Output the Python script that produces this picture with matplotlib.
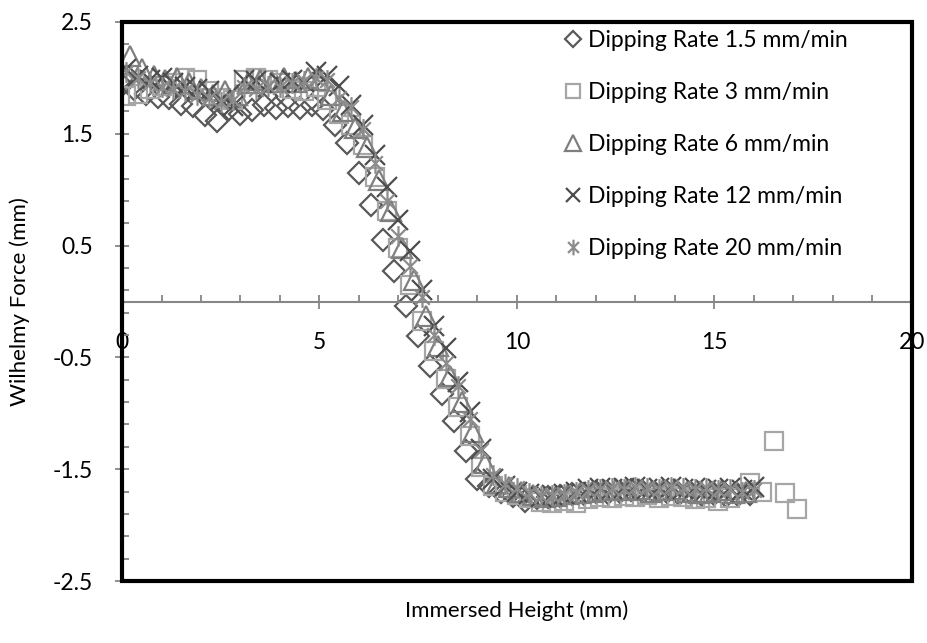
import matplotlib
matplotlib.use('Agg')
import matplotlib.pyplot as plt
from matplotlib.path import Path
from matplotlib.patches import Rectangle
from matplotlib.ticker import FixedLocator
import numpy as np

plt.rcParams['font.family'] = ['Lato', 'DejaVu Sans']

# Dipping Rate 1.5 mm/min (diamonds)
d_x = [0.0, 0.3, 0.6, 0.9, 1.2, 1.5, 1.8, 2.1, 2.4, 2.7, 3.0, 3.3, 3.6, 3.9, 4.2, 4.5, 4.8, 5.1,
       5.4, 5.7, 6.0, 6.3, 6.6, 6.9, 7.2, 7.5, 7.8, 8.1, 8.4, 8.7, 9.0, 9.3, 9.6, 9.9, 10.2, 10.5,
       10.8, 11.1, 11.4, 11.7, 12.0, 12.3, 12.6, 12.9, 13.2, 13.5, 13.8, 14.1, 14.4, 14.7, 15.0,
       15.3, 15.6, 15.9]
d_y = [1.94, 1.90, 1.86, 1.83, 1.82, 1.77, 1.75, 1.67, 1.61, 1.72,
       1.68, 1.71, 1.76, 1.73, 1.75, 1.73, 1.76, 1.72, 1.58, 1.42,
       1.15, 0.86, 0.55, 0.27, -0.04, -0.31, -0.58, -0.83, -1.07, -1.34,
       -1.59, -1.65, -1.70, -1.74, -1.78, -1.76, -1.75, -1.74, -1.72, -1.72,
       -1.70, -1.71, -1.70, -1.69, -1.70, -1.71, -1.70, -1.72, -1.71, -1.73,
       -1.72, -1.74, -1.73, -1.72]

# Dipping Rate 3 mm/min (squares)
s_x = [0.1, 0.4, 0.7, 1.0, 1.3, 1.6, 1.9, 2.2, 2.5, 2.8, 3.1, 3.4, 3.7, 4.0, 4.3, 4.6, 4.9, 5.2,
       5.5, 5.8, 6.1, 6.4, 6.7, 7.0, 7.3, 7.6, 7.9, 8.2, 8.5, 8.8, 9.1, 9.4, 9.7, 10.0, 10.3, 10.6,
       10.9, 11.2, 11.5, 11.8, 12.1, 12.4, 12.7, 13.0, 13.3, 13.6, 13.9, 14.2, 14.5, 14.8, 15.1,
       15.4, 15.9, 16.2, 16.5, 16.8, 17.1]
s_y = [1.84, 1.86, 1.90, 1.93, 1.95, 2.00, 1.98, 1.88, 1.82, 1.80,
       1.98, 2.00, 1.98, 1.95, 1.90, 1.88, 1.92, 1.80, 1.68, 1.58,
       1.40, 1.11, 0.81, 0.48, 0.15, -0.17, -0.44, -0.69, -0.94, -1.20,
       -1.48, -1.65, -1.70, -1.73, -1.76, -1.79, -1.80, -1.78, -1.80, -1.77,
       -1.75, -1.76, -1.74, -1.75, -1.73, -1.76, -1.74, -1.75, -1.77, -1.76,
       -1.78, -1.76, -1.62, -1.70, -1.25, -1.71, -1.86]

# Dipping Rate 6 mm/min (triangles)
t_x = [0.2, 0.5, 0.8, 1.1, 1.4, 1.7, 2.0, 2.3, 2.6, 2.9, 3.2, 3.5, 3.8, 4.1, 4.4, 4.7, 5.0, 5.3,
       5.6, 5.9, 6.2, 6.5, 6.8, 7.1, 7.4, 7.7, 8.0, 8.3, 8.6, 8.9, 9.2, 9.5, 9.8, 10.1, 10.4, 10.7,
       11.0, 11.3, 11.6, 11.9, 12.2, 12.5, 12.8, 13.1, 13.4, 13.7, 14.0, 14.3, 14.6, 14.9, 15.2,
       15.5, 15.8]
t_y = [2.20, 2.08, 2.02, 1.98, 2.00, 1.95, 1.90, 1.85, 1.88, 1.85,
       1.95, 1.98, 1.96, 2.00, 1.96, 2.00, 1.98, 1.85, 1.70, 1.55,
       1.38, 1.09, 0.81, 0.48, 0.19, -0.13, -0.40, -0.67, -0.90, -1.17,
       -1.44, -1.62, -1.66, -1.70, -1.73, -1.75, -1.74, -1.72, -1.71, -1.70,
       -1.69, -1.68, -1.69, -1.68, -1.70, -1.69, -1.68, -1.70, -1.71, -1.70,
       -1.69, -1.71, -1.70]

# Dipping Rate 12 mm/min (crosses)
c_x = [0.1, 0.4, 0.7, 1.0, 1.3, 1.6, 1.9, 2.2, 2.5, 2.8, 3.1, 3.4, 3.7, 4.0, 4.3, 4.6, 4.9, 5.2,
       5.5, 5.8, 6.1, 6.4, 6.7, 7.0, 7.3, 7.6, 7.9, 8.2, 8.5, 8.8, 9.1, 9.4, 9.7, 10.0, 10.3, 10.6,
       10.9, 11.2, 11.5, 11.8, 12.1, 12.4, 12.7, 13.0, 13.3, 13.6, 13.9, 14.2, 14.5, 14.8, 15.1,
       15.4, 15.7, 16.0]
c_y = [2.08, 2.02, 1.98, 2.00, 1.95, 1.92, 1.90, 1.88, 1.80, 1.75,
       1.98, 1.97, 1.92, 1.95, 1.98, 1.96, 2.05, 2.02, 1.93, 1.76,
       1.58, 1.31, 1.02, 0.73, 0.45, 0.10, -0.22, -0.42, -0.72, -0.99,
       -1.32, -1.59, -1.65, -1.70, -1.72, -1.75, -1.73, -1.72, -1.70, -1.68,
       -1.67, -1.68, -1.67, -1.66, -1.68, -1.67, -1.66, -1.68, -1.67, -1.69,
       -1.68, -1.67, -1.69, -1.66]

# Dipping Rate 20 mm/min (asterisks)
a_x = [0.1, 0.4, 0.7, 1.0, 1.3, 1.6, 1.9, 2.2, 2.5, 2.8, 3.1, 3.4, 3.7, 4.0, 4.3, 4.6, 4.9, 5.2,
       5.5, 5.8, 6.1, 6.4, 6.7, 7.0, 7.3, 7.6, 7.9, 8.2, 8.5, 8.8, 9.1, 9.4, 9.7, 10.0, 10.3, 10.6,
       10.9, 11.2, 11.5, 11.8, 12.1, 12.4, 12.7, 13.0, 13.3, 13.6, 13.9, 14.2, 14.5, 14.8, 15.1,
       15.4, 15.7, 16.0]
a_y = [2.05, 2.00, 1.95, 1.92, 1.90, 1.88, 1.85, 1.82, 1.78, 1.80,
       1.92, 1.90, 1.93, 1.92, 1.95, 1.97, 2.00, 1.98, 1.82, 1.74,
       1.54, 1.24, 0.90, 0.59, 0.32, 0.04, -0.30, -0.55, -0.76, -1.05,
       -1.33, -1.55, -1.63, -1.67, -1.71, -1.74, -1.73, -1.72, -1.70, -1.69,
       -1.68, -1.67, -1.68, -1.66, -1.67, -1.68, -1.66, -1.67, -1.68, -1.67,
       -1.69, -1.68, -1.70, -1.69]

labels = ['Dipping Rate 1.5 mm/min', 'Dipping Rate 3 mm/min', 'Dipping Rate 6 mm/min',
          'Dipping Rate 12 mm/min', 'Dipping Rate 20 mm/min']

# excel style asterisk: vertical bar plus an x
star = Path([(0, -1), (0, 1), (-0.7, -0.7), (0.7, 0.7), (-0.7, 0.7), (0.7, -0.7)],
            [Path.MOVETO, Path.LINETO, Path.MOVETO, Path.LINETO, Path.MOVETO, Path.LINETO])

fig = plt.figure(figsize=(9.28, 6.43), dpi=100)
ax = fig.add_axes([0.1315, 0.0964, 0.851, 0.8694])

mew = 1.6
ax.plot(d_x, d_y, ls='none', marker='D', ms=11, mfc='none', mec='#595959', mew=mew, label=labels[0])
ax.plot(s_x, s_y, ls='none', marker='s', ms=13, mfc='none', mec='#A6A6A6', mew=mew, label=labels[1])
ax.plot(t_x, t_y, ls='none', marker='^', ms=15, mfc='none', mec='#7F7F7F', mew=mew, label=labels[2])
ax.plot(c_x, c_y, ls='none', marker='x', ms=14, mfc='none', mec='#4D4D4D', mew=mew, label=labels[3])
ax.plot(a_x, a_y, ls='none', marker=star, ms=15, mfc='none', mec='#8C8C8C', mew=mew, label=labels[4])

ax.set_xlim(0, 20)
ax.set_ylim(-2.5, 2.5)

# x axis crosses at y = 0
ax.spines['bottom'].set_position(('data', 0))
ax.spines['bottom'].set_color('#868686')
ax.spines['bottom'].set_linewidth(1.5)
ax.spines['left'].set_color('#868686')
ax.spines['left'].set_linewidth(1.5)
ax.spines['top'].set_visible(False)
ax.spines['right'].set_visible(False)
ax.add_patch(Rectangle((0, 0), 1, 1, transform=ax.transAxes, fill=False,
                       ec='black', lw=3, clip_on=False, zorder=5))

ax.set_xticks([0, 5, 10, 15, 20])
ax.xaxis.set_minor_locator(FixedLocator(np.arange(0, 20.1, 1)))
ax.set_yticks([-2.5, -1.5, -0.5, 0.5, 1.5, 2.5])
ax.set_yticklabels(['-2.5', '-1.5', '-0.5', '0.5', '1.5', '2.5'])
ax.yaxis.set_minor_locator(FixedLocator(np.arange(-2.5, 2.6, 0.2)))

ax.tick_params(axis='both', which='major', direction='inout', length=10, width=1.3,
               color='#868686', labelsize=16.5)
ax.tick_params(axis='both', which='minor', direction='in', length=5, width=1.3, color='#868686')
ax.tick_params(axis='y', which='major', pad=16)
ax.tick_params(axis='x', which='major', pad=17)

ax.set_ylabel('Wilhelmy Force (mm)', fontsize=16)
ax.yaxis.set_label_coords(-0.117, 0.5)
ax.set_xlabel('Immersed Height (mm)', fontsize=16)
ax.xaxis.set_label_coords(0.5, -0.035)

ax.legend(loc='upper left', bbox_to_anchor=(0.56, 0.985), frameon=False, fontsize=16.5,
          handlelength=0.8, handletextpad=0.22, labelspacing=1.35, markerscale=0.75,
          borderpad=0, borderaxespad=0)

fig.savefig('out.png', dpi=100)
